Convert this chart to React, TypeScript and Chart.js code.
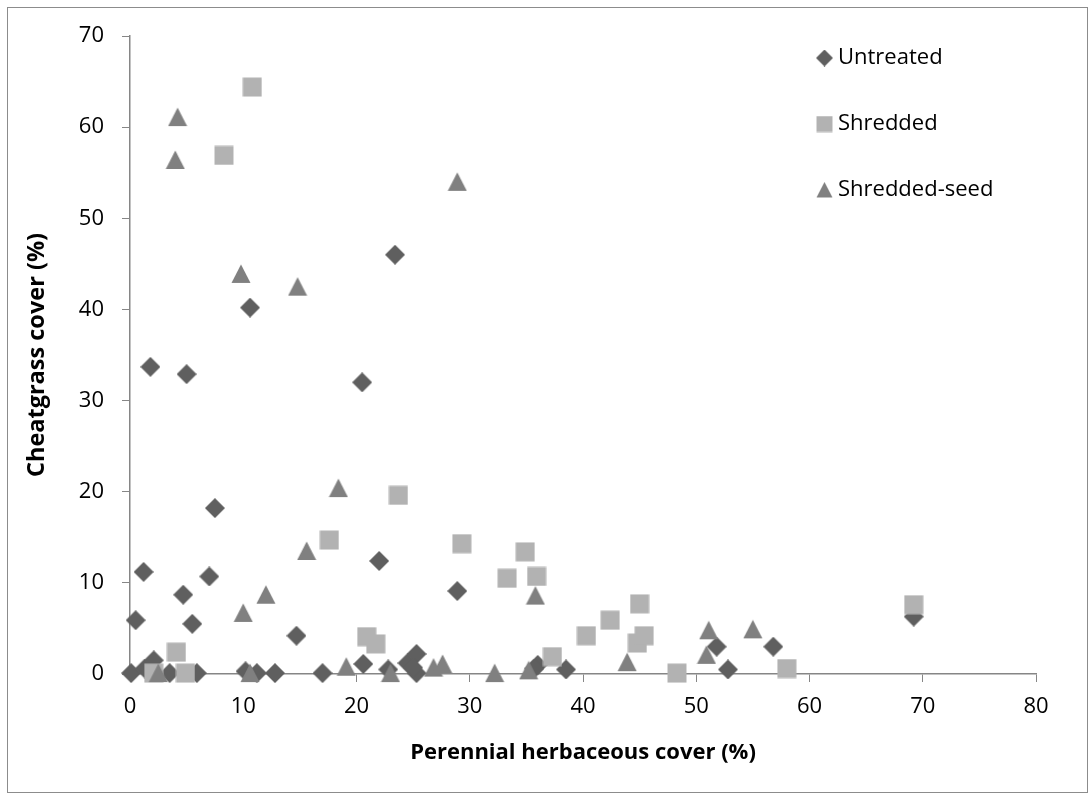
import React, { useEffect, useRef } from "react";
import { Chart, registerables } from "chart.js";

Chart.register(...registerables);

// ---- Data ----
const untreatedX = [0.1, 1.3, 2.1, 3.5, 5.9, 10.2, 11.2, 12.8, 17.0, 1.2, 7.0, 4.7, 0.5, 5.5, 14.7, 1.8, 5.0, 20.5, 7.5, 23.4, 10.6, 22.0, 28.9, 20.6, 22.8, 24.5, 25.3, 25.3, 25.0, 36.0, 35.7, 38.5, 51.8, 52.8, 56.8, 69.2];
const untreatedY = [0.1, 0.6, 1.5, 0.1, 0.1, 0.3, 0.1, 0.1, 0.1, 11.2, 10.7, 8.7, 5.9, 5.5, 4.2, 33.7, 32.9, 32.0, 18.2, 46.0, 40.2, 12.4, 9.1, 1.1, 0.5, 1.2, 2.2, 0.1, 0.7, 1.0, 0.6, 0.5, 3.0, 0.5, 3.0, 6.3];

const shreddedX = [10.8, 8.3, 23.7, 17.6, 29.3, 34.9, 33.3, 35.9, 20.9, 21.7, 37.3, 4.1, 2.1, 4.9, 45.0, 42.4, 40.3, 44.8, 45.4, 48.3, 58.0, 69.2];
const shreddedY = [64.4, 56.9, 19.6, 14.7, 14.3, 13.4, 10.5, 10.7, 4.1, 3.3, 1.9, 2.4, 0.1, 0.1, 7.7, 5.9, 4.2, 3.4, 4.2, 0.1, 0.6, 7.6];

const seedX = [4.2, 4.0, 9.8, 14.8, 28.9, 18.4, 15.6, 12.0, 10.0, 2.5, 10.6, 19.1, 23.0, 26.8, 27.6, 32.2, 35.2, 35.8, 43.9, 51.1, 50.9, 55.0];
const seedY = [61.1, 56.4, 43.9, 42.5, 54.0, 20.4, 13.5, 8.7, 6.7, 0.1, 0.1, 0.8, 0.1, 0.7, 1.1, 0.1, 0.4, 8.6, 1.3, 4.8, 2.1, 4.9];

const seriesNames = ["Untreated", "Shredded", "Shredded-seed"];
const seriesColors = ["#5f5f5f", "#b2b2b2", "#808080"];
const seriesShapes = ["diamond", "square", "triangle"];

const xTitle = "Perennial herbaceous cover (%)";
const yTitle = "Cheatgrass cover (%)";

const FONT = "'Open Sans', sans-serif";
const AXIS_GRAY = "#868686";

function makeMarker(shape: string, size: number, color: string): HTMLCanvasElement {
  const c = document.createElement("canvas");
  c.width = size;
  c.height = size;
  const ctx = c.getContext("2d")!;
  ctx.fillStyle = color;
  ctx.beginPath();
  if (shape === "diamond") {
    ctx.moveTo(size / 2, 0);
    ctx.lineTo(size, size / 2);
    ctx.lineTo(size / 2, size);
    ctx.lineTo(0, size / 2);
  } else if (shape === "square") {
    ctx.rect(0.5, 0.5, size - 1, size - 1);
  } else {
    ctx.moveTo(size / 2, 0.5);
    ctx.lineTo(size - 0.5, size - 1);
    ctx.lineTo(0.5, size - 1);
  }
  ctx.closePath();
  ctx.fill();
  return c;
}

function pairs(xs: number[], ys: number[]) {
  return xs.map((x, i) => ({ x, y: ys[i] }));
}

export default function App() {
  const ref = useRef<HTMLCanvasElement | null>(null);

  useEffect(() => {
    if (!ref.current) return;
    const markers = seriesShapes.map((s, i) => makeMarker(s, 20, seriesColors[i]));
    const legendMarkers = seriesShapes.map((s, i) => makeMarker(s, 17, seriesColors[i]));

    const framePlugin = {
      id: "frame",
      beforeDraw(chart: any) {
        const { ctx, width, height } = chart;
        ctx.save();
        ctx.fillStyle = "#ffffff";
        ctx.fillRect(0, 0, width, height);
        ctx.strokeStyle = "#8c8c8c";
        ctx.lineWidth = 1;
        ctx.strokeRect(7.5, 7.5, 1080, 785);
        ctx.restore();
      },
    };

    const legendPlugin = {
      id: "customLegend",
      afterDraw(chart: any) {
        const ctx = chart.ctx;
        ctx.save();
        ctx.font = `22px ${FONT}`;
        ctx.fillStyle = "#000000";
        ctx.textBaseline = "middle";
        ctx.textAlign = "left";
        const x0 = 816;
        const y0 = 58;
        const gap = 66;
        seriesNames.forEach((name, i) => {
          const cy = y0 + i * gap;
          ctx.drawImage(legendMarkers[i], x0, cy - 8.5);
          ctx.fillText(name, x0 + 22, cy);
        });
        ctx.restore();
      },
    };

    const datasets = [
      { label: seriesNames[0], data: pairs(untreatedX, untreatedY), order: 3 },
      { label: seriesNames[1], data: pairs(shreddedX, shreddedY), order: 2 },
      { label: seriesNames[2], data: pairs(seedX, seedY), order: 1 },
    ].map((d, i) => ({
      ...d,
      pointStyle: markers[i],
      pointRadius: 10,
      pointHoverRadius: 10,
      backgroundColor: seriesColors[i],
      borderColor: seriesColors[i],
      showLine: false,
      clip: false as any,
    }));

    const chart = new Chart(ref.current, {
      type: "scatter",
      data: { datasets },
      options: {
        animation: false,
        responsive: false,
        devicePixelRatio: 1,
        layout: { padding: { left: 0, right: 54, top: 36, bottom: 0 } },
        plugins: { legend: { display: false }, tooltip: { enabled: false } },
        scales: {
          x: {
            type: "linear",
            min: 0,
            max: 80,
            afterFit: (s: any) => {
              s.height = 123;
            },
            ticks: { stepSize: 10, font: { family: FONT, size: 22 }, color: "#000000", padding: 12 },
            grid: { display: true, drawOnChartArea: false, drawTicks: true, tickLength: 8, tickColor: AXIS_GRAY },
            border: { display: true, color: AXIS_GRAY, width: 1.5 },
            title: {
              display: true,
              text: xTitle,
              color: "#000000",
              font: { family: FONT, size: 22, weight: "bold" },
              padding: { top: 0, bottom: 31 },
            },
          },
          y: {
            type: "linear",
            min: 0,
            max: 70,
            afterFit: (s: any) => {
              s.width = 130;
            },
            ticks: { stepSize: 10, font: { family: FONT, size: 22 }, color: "#000000", padding: 18 },
            grid: { display: true, drawOnChartArea: false, drawTicks: true, tickLength: 8, tickColor: AXIS_GRAY },
            border: { display: true, color: AXIS_GRAY, width: 1.5 },
            title: {
              display: true,
              text: yTitle,
              color: "#000000",
              font: { family: FONT, size: 23.5, weight: "bold" },
              padding: { top: 23, bottom: 0 },
            },
          },
        },
      },
      plugins: [framePlugin, legendPlugin],
    } as any);

    return () => chart.destroy();
  }, []);

  return (
    <div style={{ position: "absolute", left: 0, top: 0, width: 1090, height: 797 }}>
      <canvas ref={ref} width={1090} height={797} style={{ width: 1090, height: 797, display: "block" }} />
    </div>
  );
}
